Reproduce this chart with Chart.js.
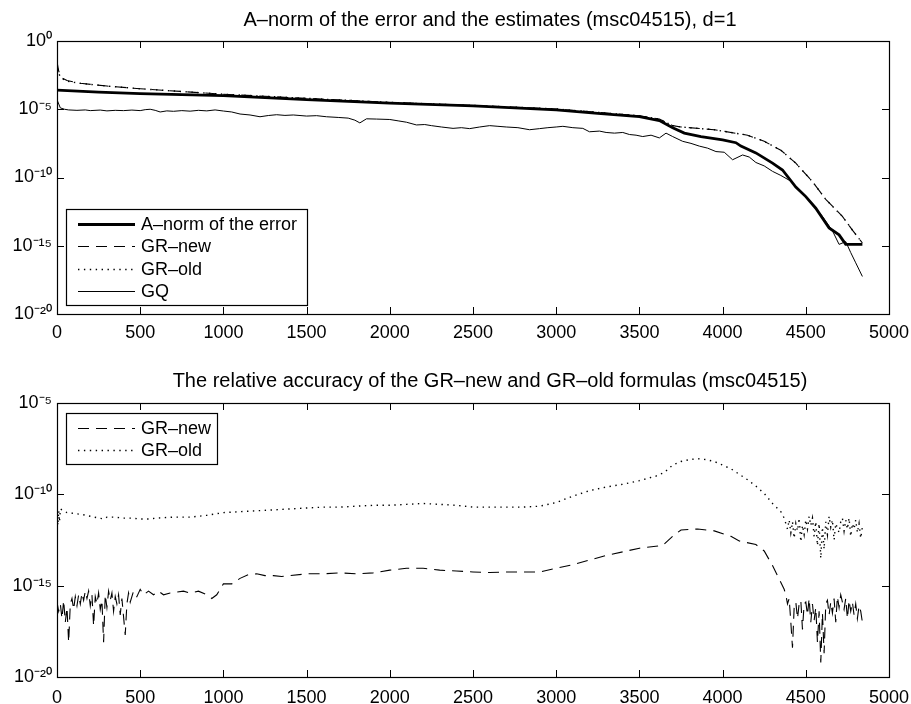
<!DOCTYPE html>
<html>
<head>
<meta charset="utf-8">
<script src="https://cdn.jsdelivr.net/npm/chart.js@4.4.0/dist/chart.umd.min.js"></script>
<style>
body { margin: 0; background: #fff; }
#top { position: absolute; left: 0; top: 0; width: 911px; height: 345px; }
#bot { position: absolute; left: 0; top: 345px; width: 911px; height: 359px; }
</style>
</head>
<body>
<div id="top"><canvas id="c1"></canvas></div>
<div id="bot"><canvas id="c2"></canvas></div>
<script>
var xTicks = [0, 500, 1000, 1500, 2000, 2500, 3000, 3500, 4000, 4500, 5000];
var topDecades = [0, -5, -10, -15, -20];
var botDecades = [-5, -10, -15, -20];

// top plot
var errX   = [0, 250, 500, 1000, 1500, 2000, 2500, 3000, 3250, 3500, 3620, 3700, 3770, 3870, 4000, 4080, 4110, 4200, 4300, 4360, 4440, 4500, 4560, 4640, 4700, 4740, 4800, 4840];
var errExp = [-3.6, -3.75, -3.85, -4.0, -4.3, -4.55, -4.75, -5.05, -5.3, -5.54, -5.83, -6.35, -6.75, -7.0, -7.25, -7.45, -7.7, -8.2, -8.95, -9.45, -10.7, -11.4, -12.25, -13.7, -14.2, -14.9, -14.9, -14.9];

var newX   = [0, 10, 30, 60, 140, 300, 500, 1000, 1500, 2000, 2500, 3000, 3500, 3620, 3700, 3750, 3950, 4150, 4250, 4350, 4440, 4540, 4620, 4720, 4780, 4840];
var newExp = [-1.5, -2.2, -2.7, -2.9, -3.1, -3.3, -3.5, -3.9, -4.2, -4.5, -4.72, -4.98, -5.48, -5.72, -6.2, -6.3, -6.5, -6.9, -7.35, -8.0, -8.95, -10.3, -11.6, -12.85, -13.85, -14.8];

var oldX   = [0, 10, 30, 60, 140, 300, 500, 1000, 1500, 2000, 2500, 3000, 3500, 3620, 3700, 3750, 3950, 4150, 4250, 4350, 4440, 4540, 4620, 4720, 4780, 4840];
var oldExp = [-1.6, -2.4, -2.75, -2.95, -3.1, -3.3, -3.5, -3.9, -4.2, -4.5, -4.72, -4.98, -5.48, -5.72, -6.2, -6.3, -6.5, -6.9, -7.35, -8.0, -8.95, -10.3, -11.6, -12.85, -13.85, -14.8];

var gqX   = [0, 20, 45, 70, 120, 170, 200, 260, 300, 350, 400, 450, 500, 530, 560, 590, 620, 660, 700, 750, 800, 850, 900, 950, 1000, 1050, 1100, 1160, 1220, 1270, 1320, 1370, 1420, 1500, 1560, 1620, 1690, 1750, 1790, 1820, 1860, 1920, 2000, 2050, 2100, 2160, 2210, 2250, 2310, 2380, 2430, 2480, 2540, 2600, 2650, 2700, 2770, 2840, 2900, 2950, 3000, 3040, 3100, 3160, 3200, 3260, 3300, 3350, 3400, 3440, 3480, 3520, 3570, 3620, 3660, 3700, 3760, 3810, 3860, 3910, 3960, 4010, 4060, 4120, 4160, 4200, 4250, 4300, 4350, 4400, 4450, 4500, 4550, 4600, 4660, 4700, 4740, 4770, 4800, 4840];
var gqExp = [-4.3, -4.9, -5.0, -5.05, -5.08, -5.05, -5.1, -5.06, -5.12, -5.08, -5.1, -5.06, -5.1, -5.03, -5.0, -5.08, -5.2, -5.12, -5.15, -5.1, -5.14, -5.08, -5.12, -5.05, -5.13, -5.2, -5.35, -5.42, -5.55, -5.46, -5.4, -5.45, -5.42, -5.5, -5.47, -5.55, -5.6, -5.65, -5.8, -6.0, -5.7, -5.72, -5.75, -5.85, -5.95, -6.15, -6.12, -6.2, -6.3, -6.4, -6.35, -6.42, -6.3, -6.2, -6.25, -6.3, -6.35, -6.5, -6.42, -6.35, -6.3, -6.25, -6.35, -6.4, -6.65, -6.6, -6.7, -6.75, -6.7, -6.85, -6.9, -7.0, -6.9, -7.1, -6.75, -7.0, -7.35, -7.5, -7.7, -7.85, -8.1, -8.15, -8.7, -8.35, -8.5, -8.9, -9.15, -9.55, -9.85, -10.2, -10.75, -11.4, -12.1, -12.85, -13.9, -14.9, -14.7, -15.5, -16.25, -17.25];

// bottom plot
var relNewX = [0, 10, 20, 30, 40, 50, 60, 70, 80, 90, 100, 110, 120, 130, 140, 150, 160, 170, 180, 190, 200, 210, 220, 230, 240, 250, 260, 270, 280, 290, 300, 310, 320, 330, 340, 350, 360, 370, 380, 390, 410, 420, 430, 440, 460, 480, 500, 520, 550, 580, 610, 640, 680, 720, 760, 800, 850, 900, 930, 960, 1000, 1050, 1100, 1150, 1200, 1250, 1300, 1350, 1400, 1500, 1600, 1700, 1800, 1900, 2000, 2100, 2200, 2300, 2400, 2500, 2600, 2700, 2800, 2900, 3000, 3100, 3200, 3300, 3400, 3500, 3640, 3700, 3750, 3850, 3950, 4050, 4100, 4200, 4250, 4300, 4370, 4380, 4390, 4400, 4410, 4420, 4430, 4440, 4450, 4460, 4470, 4480, 4490, 4500, 4510, 4520, 4530, 4540, 4550, 4560, 4570, 4580, 4590, 4600, 4610, 4620, 4630, 4640, 4650, 4660, 4670, 4680, 4690, 4700, 4710, 4720, 4730, 4740, 4750, 4760, 4770, 4780, 4790, 4800, 4810, 4820, 4830, 4840];
var relNewExp = [-15.9, -16.4, -16.0, -16.8, -15.8, -17.0, -16.2, -18.1, -16.0, -15.7, -16.3, -15.6, -16.1, -15.5, -16.0, -15.4, -15.8, -15.3, -15.7, -15.3, -16.1, -15.5, -17.2, -15.6, -16.0, -15.4, -16.3, -15.8, -18.1, -15.5, -16.2, -15.3, -15.8, -15.4, -16.4, -15.6, -16.0, -15.5, -16.6, -15.7, -17.7, -16.0, -15.4, -15.9, -15.3, -15.6, -15.2, -15.5, -15.3, -15.5, -15.3, -15.5, -15.4, -15.35, -15.3, -15.4, -15.3, -15.5, -15.7, -15.5, -14.9, -14.9, -14.6, -14.4, -14.35, -14.45, -14.45, -14.5, -14.45, -14.35, -14.35, -14.3, -14.35, -14.3, -14.15, -14.05, -14.05, -14.15, -14.2, -14.25, -14.28, -14.25, -14.25, -14.25, -14.05, -13.85, -13.6, -13.35, -13.15, -12.95, -12.8, -12.3, -11.95, -11.9, -12.0, -12.3, -12.55, -12.75, -13.1, -13.9, -15.2, -15.5, -16.0, -15.7, -17.0, -18.4, -16.2, -15.9, -16.8, -16.0, -15.8, -17.4, -16.0, -15.9, -16.6, -15.7, -17.0, -16.0, -16.9, -16.2, -18.1, -16.4, -19.2, -16.5, -18.7, -16.0, -15.8, -16.6, -15.9, -16.5, -15.7, -17.0, -15.6, -16.2, -15.5, -15.9, -16.3, -15.7, -16.8, -15.8, -16.4, -15.9, -16.6, -16.0, -16.8, -16.1, -16.4, -17.0];

var relOldX = [0, 5, 10, 15, 20, 40, 60, 80, 100, 150, 200, 250, 280, 300, 350, 400, 450, 500, 550, 600, 700, 800, 900, 1000, 1100, 1200, 1300, 1400, 1500, 1600, 1700, 1800, 1900, 2000, 2100, 2200, 2300, 2400, 2500, 2600, 2700, 2800, 2900, 3000, 3100, 3200, 3300, 3400, 3500, 3600, 3650, 3700, 3750, 3800, 3850, 3900, 3950, 4000, 4050, 4100, 4150, 4200, 4250, 4300, 4350, 4370, 4390, 4400, 4410, 4420, 4430, 4440, 4450, 4460, 4470, 4480, 4490, 4500, 4510, 4520, 4530, 4540, 4550, 4560, 4570, 4580, 4590, 4600, 4610, 4620, 4630, 4640, 4650, 4660, 4670, 4680, 4700, 4710, 4720, 4730, 4740, 4750, 4760, 4770, 4780, 4790, 4800, 4810, 4820, 4830, 4840];
var relOldExp = [-10.6, -11.7, -10.9, -11.5, -10.8, -10.9, -11.0, -11.0, -11.05, -11.1, -11.2, -11.3, -11.35, -11.25, -11.25, -11.3, -11.3, -11.35, -11.35, -11.3, -11.25, -11.25, -11.15, -11.0, -10.95, -10.9, -10.85, -10.8, -10.75, -10.7, -10.7, -10.65, -10.6, -10.6, -10.55, -10.5, -10.55, -10.6, -10.7, -10.7, -10.7, -10.7, -10.65, -10.45, -10.1, -9.8, -9.6, -9.45, -9.25, -9.0, -8.8, -8.4, -8.2, -8.1, -8.05, -8.1, -8.2, -8.4, -8.6, -8.9, -9.2, -9.55, -9.95, -10.5, -10.95, -11.3, -11.9, -11.4, -12.1, -11.5, -12.4, -11.6, -12.0, -11.3, -12.6, -11.7, -12.2, -11.4, -11.9, -11.2, -11.7, -11.3, -12.3, -11.5, -12.8, -11.6, -13.5, -11.8, -13.0, -11.5, -12.2, -11.2, -11.8, -11.4, -12.5, -11.6, -12.1, -11.5, -11.3, -12.0, -11.4, -11.9, -11.3, -12.3, -11.6, -11.9, -11.4, -12.1, -11.6, -12.4, -11.8];

var FONT = 'Liberation Sans, Arial, sans-serif';
var SUP = {'0':'\u2070','1':'\u00b9','2':'\u00b2','3':'\u00b3','4':'\u2074','5':'\u2075','6':'\u2076','7':'\u2077','8':'\u2078','9':'\u2079','-':'\u207b'};

function pts(xs, es) {
    var out = [];
    for (var i = 0; i < xs.length; i++) out.push({x: xs[i], y: Math.pow(10, es[i])});
    return out;
}
function powLabel(v) {
    var e = String(Math.round(Math.log10(v)));
    var s = '';
    for (var i = 0; i < e.length; i++) s += SUP[e[i]];
    return '10' + s;
}

// matlab style: title, box, inward ticks and a legend inside the axes
var boxPlugin = {
    id: 'box',
    afterDraw: function (chart, args, opts) {
        var ctx = chart.ctx, a = chart.chartArea;
        var xs = chart.scales.x, ys = chart.scales.y;
        ctx.save();
        ctx.fillStyle = '#000';
        ctx.font = '20px ' + FONT;
        ctx.textAlign = 'center';
        ctx.textBaseline = 'middle';
        ctx.fillText(opts.title, 490, opts.titleY);
        ctx.textAlign = 'left';

        ctx.strokeStyle = '#000';
        ctx.lineWidth = 1.2;
        ctx.strokeRect(a.left + 0.5, a.top + 0.5, a.right - a.left, a.bottom - a.top);
        ctx.lineWidth = 1;
        ctx.beginPath();
        xTicks.forEach(function (t) {
            var px = Math.round(xs.getPixelForValue(t)) + 0.5;
            ctx.moveTo(px, a.bottom); ctx.lineTo(px, a.bottom - 7);
            ctx.moveTo(px, a.top); ctx.lineTo(px, a.top + 7);
        });
        opts.decades.forEach(function (d) {
            var py = Math.round(ys.getPixelForValue(Math.pow(10, d))) + 0.5;
            ctx.moveTo(a.left, py); ctx.lineTo(a.left + 7, py);
            ctx.moveTo(a.right, py); ctx.lineTo(a.right - 7, py);
        });
        ctx.stroke();

        // legend
        var L = opts.legend;
        var bx = a.left + 9, by = L.top, bw = L.width, bh = 6 + L.items.length * 22.5;
        ctx.fillStyle = '#fff';
        ctx.fillRect(bx, by, bw, bh);
        ctx.lineWidth = 1.2;
        ctx.strokeRect(bx + 0.5, by + 0.5, bw, bh);
        ctx.font = '18px ' + FONT;
        L.items.forEach(function (it, i) {
            var ds = chart.data.datasets[it];
            var y = Math.round(by + 14.5 + i * 22.5) + 0.5;
            ctx.beginPath();
            ctx.lineWidth = ds.borderWidth;
            ctx.setLineDash(ds.borderDash || []);
            ctx.moveTo(bx + 12, y); ctx.lineTo(bx + 69, y);
            ctx.stroke();
            ctx.setLineDash([]);
            ctx.fillStyle = '#000';
            ctx.fillText(ds.label, bx + 75, y + 1);
        });
        ctx.restore();
    }
};

function makeChart(id, title, titleY, padTop, datasets, yMin, yMax, decades, axisH, xPad, legend) {
    return new Chart(document.getElementById(id), {
        type: 'line',
        data: {datasets: datasets},
        plugins: [boxPlugin],
        options: {
            responsive: true,
            maintainAspectRatio: false,
            animation: false,
            layout: {padding: {left: 0, right: 22, top: padTop, bottom: 0}},
            elements: {point: {radius: 0}, line: {tension: 0}},
            plugins: {
                legend: {display: false},
                tooltip: {enabled: false},
                title: {display: false},
                box: {title: title, titleY: titleY, decades: decades, legend: legend}
            },
            scales: {
                x: {
                    type: 'linear', min: 0, max: 5000,
                    grid: {display: false, drawTicks: false}, border: {display: false},
                    afterBuildTicks: function (s) { s.ticks = xTicks.map(function (v) { return {value: v}; }); },
                    afterFit: function (s) { s.height = axisH; s.paddingLeft = 0; s.paddingRight = 0; },
                    ticks: {color: '#000', font: {family: FONT, size: 18}, maxRotation: 0, autoSkip: false, padding: xPad,
                            callback: function (v) { return String(v); }}
                },
                y: {
                    type: 'logarithmic', min: yMin, max: yMax,
                    grid: {display: false, drawTicks: false}, border: {display: false},
                    afterBuildTicks: function (s) { s.ticks = decades.map(function (d) { return {value: Math.pow(10, d)}; }); },
                    afterFit: function (s) { s.width = 57; s.paddingTop = 0; s.paddingBottom = 0; },
                    ticks: {color: '#000', font: {family: FONT, size: 18}, autoSkip: false, padding: 5, callback: function (v) { return powLabel(v); }}
                }
            }
        }
    });
}

makeChart('c1', 'A\u2013norm of the error and the estimates (msc04515), d=1', 20, 41, [
    {label: 'A\u2013norm of the error', data: pts(errX, errExp), borderColor: '#000', borderWidth: 2.8},
    {label: 'GR\u2013new', data: pts(newX, newExp), borderColor: '#000', borderWidth: 1.1, borderDash: [11, 7]},
    {label: 'GR\u2013old', data: pts(oldX, oldExp), borderColor: '#000', borderWidth: 1.4, borderDash: [1.4, 4.5]},
    {label: 'GQ', data: pts(gqX, gqExp), borderColor: '#000', borderWidth: 1}
], 1e-20, 1, topDecades, 31, 8, {top: 209, width: 241, items: [0, 1, 2, 3]});

makeChart('c2', 'The relative accuracy of the GR\u2013new and GR\u2013old formulas (msc04515)', 36, 58, [
    {label: 'GR\u2013new', data: pts(relNewX, relNewExp), borderColor: '#000', borderWidth: 1.1, borderDash: [11, 7]},
    {label: 'GR\u2013old', data: pts(relOldX, relOldExp), borderColor: '#000', borderWidth: 1.4, borderDash: [1.4, 4.5]}
], 1e-20, 1e-5, botDecades, 27, 10, {top: 68, width: 151, items: [0, 1]});
</script>
</body>
</html>
